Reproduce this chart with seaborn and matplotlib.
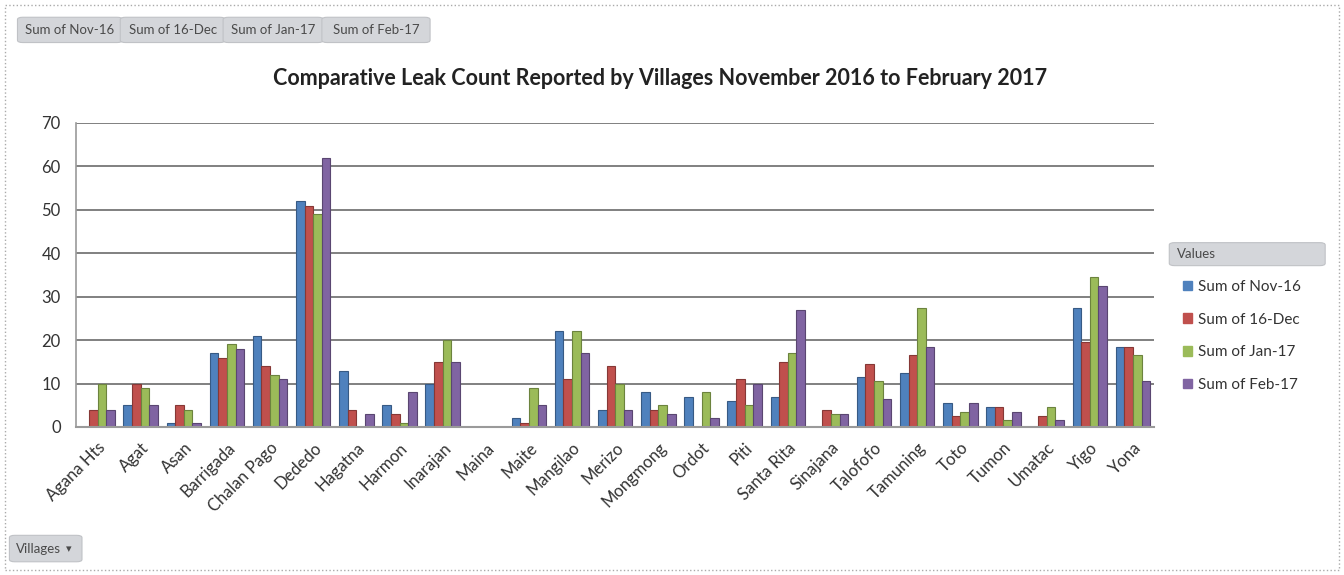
import pandas as pd
import matplotlib.pyplot as plt
import matplotlib.colors as mcolors
import matplotlib.transforms as mtransforms
from matplotlib.patches import FancyBboxPatch, Rectangle, Patch
import seaborn as sns

# Leak counts, one list per month
villages = ["Agana Hts", "Agat", "Asan", "Barrigada", "Chalan Pago", "Dededo", "Hagatna",
            "Harmon", "Inarajan", "Maina", "Maite", "Mangilao", "Merizo", "Mongmong",
            "Ordot", "Piti", "Santa Rita", "Sinajana", "Talofofo", "Tamuning", "Toto",
            "Tumon", "Umatac", "Yigo", "Yona"]
nov_16 = [0, 5, 1, 17, 21, 52, 13, 5, 10, 0, 2, 22, 4, 8, 7, 6, 7, 0, 11.5, 12.5, 5.5, 4.5, 0, 27.5, 18.5]
dec_16 = [4, 10, 5, 16, 14, 51, 4, 3, 15, 0, 1, 11, 14, 4, 0, 11, 15, 4, 14.5, 16.5, 2.5, 4.5, 2.5, 19.5, 18.5]
jan_17 = [10, 9, 4, 19, 12, 49, 0, 1, 20, 0, 9, 22, 10, 5, 8, 5, 17, 3, 10.5, 27.5, 3.5, 1.5, 4.5, 34.5, 16.5]
feb_17 = [4, 5, 1, 18, 11, 62, 3, 8, 15, 0, 5, 17, 4, 3, 2, 10, 27, 3, 6.5, 18.5, 5.5, 3.5, 1.5, 32.5, 10.5]

series_names = ["Sum of Nov-16", "Sum of 16-Dec", "Sum of Jan-17", "Sum of Feb-17"]
colors = ["#4F81BD", "#C0504D", "#9BBB59", "#8064A2"]
y_ticks = [0, 10, 20, 30, 40, 50, 60, 70]

df = pd.DataFrame({"Village": villages, series_names[0]: nov_16, series_names[1]: dec_16,
                   series_names[2]: jan_17, series_names[3]: feb_17})
df = df.melt(id_vars="Village", var_name="Series", value_name="Leaks")

sns.set_theme(style="white")
plt.rcParams["font.family"] = ["Lato", "DejaVu Sans"]

fig = plt.figure(figsize=(13.44, 5.75), dpi=100)
ax = fig.add_axes([0.0565, 0.2574, 0.8025, 0.5287])

sns.barplot(data=df, x="Village", y="Leaks", hue="Series", palette=colors,
            width=0.8, saturation=1, ax=ax, legend=False)

# darker outline to hint at the 3D look of the original
for bar in ax.patches:
    fc = mcolors.to_rgb(bar.get_facecolor())
    bar.set_edgecolor([c * 0.7 for c in fc])
    bar.set_linewidth(0.8)

ax.set_ylim(0, 70)
ax.set_xlim(-0.5, len(villages) - 0.5)
ax.set_yticks(y_ticks)
ax.set_yticklabels([str(t) for t in y_ticks], fontsize=12, color="#333333")
ax.yaxis.grid(True, color="#808080", linewidth=1.4)
ax.set_axisbelow(True)
ax.set_xticks(range(len(villages)))
ax.set_xticklabels(villages, rotation=45, ha="right", rotation_mode="anchor",
                   fontsize=12, color="#333333")
shift = mtransforms.ScaledTranslation(9 / 100, 0, fig.dpi_scale_trans)
for lbl in ax.get_xticklabels():
    lbl.set_transform(lbl.get_transform() + shift)
ax.tick_params(axis="x", length=0, pad=9)
ax.tick_params(axis="y", length=0, pad=11)
ax.set_xlabel("")
ax.set_ylabel("")
for side in ["top", "right"]:
    ax.spines[side].set_visible(False)
ax.spines["left"].set_color("#9a9a9a")
ax.spines["bottom"].set_color("#9a9a9a")
ax.spines["left"].set_linewidth(1.2)
ax.spines["bottom"].set_linewidth(1.5)

fig.text(0.491, 0.864, "Comparative Leak Count Reported by Villages November 2016 to February 2017",
         ha="center", va="center", fontsize=15.5, fontweight="bold", color="#222222")

# outer dotted frame
fig.patches.append(Rectangle((0.004, 0.008), 0.992, 0.984, transform=fig.transFigure,
                             fill=False, edgecolor="#aaaaaa", linewidth=1, linestyle=":"))

# pivot field buttons along the top
button_x = [0.015, 0.0915, 0.168, 0.2415]
button_w = [0.074, 0.074, 0.0705, 0.0765]
for bx, bw, name in zip(button_x, button_w, series_names):
    fig.patches.append(FancyBboxPatch((bx, 0.928), bw, 0.04, transform=fig.transFigure,
                                      boxstyle="round,pad=0.002,rounding_size=0.004",
                                      facecolor="#d4d6da", edgecolor="#c0c2c6", linewidth=0.8))
    fig.text(bx + bw / 2, 0.948, name, ha="center", va="center", fontsize=9.5, color="#4a4a4a")

# Villages button bottom left
fig.patches.append(FancyBboxPatch((0.009, 0.025), 0.05, 0.042, transform=fig.transFigure,
                                  boxstyle="round,pad=0.002,rounding_size=0.004",
                                  facecolor="#d4d6da", edgecolor="#c0c2c6", linewidth=0.8))
fig.text(0.012, 0.046, "Villages", ha="left", va="center", fontsize=9.5, color="#4a4a4a")
fig.text(0.051, 0.046, "\u25be", ha="center", va="center", fontsize=8, color="#4a4a4a")

# legend with a "Values" header
fig.patches.append(FancyBboxPatch((0.872, 0.54), 0.112, 0.036, transform=fig.transFigure,
                                  boxstyle="round,pad=0.002,rounding_size=0.004",
                                  facecolor="#d4d6da", edgecolor="#c0c2c6", linewidth=0.8))
fig.text(0.876, 0.558, "Values", ha="left", va="center", fontsize=9.5, color="#4a4a4a")
handles = [Patch(facecolor=c, edgecolor=c) for c in colors]
fig.legend(handles, series_names, loc="upper left", bbox_to_anchor=(0.87, 0.537),
           frameon=False, fontsize=11, handlelength=0.6, handleheight=0.6,
           handletextpad=0.4, labelspacing=1.22, labelcolor="#333333")

plt.savefig("out.png", dpi=100)
